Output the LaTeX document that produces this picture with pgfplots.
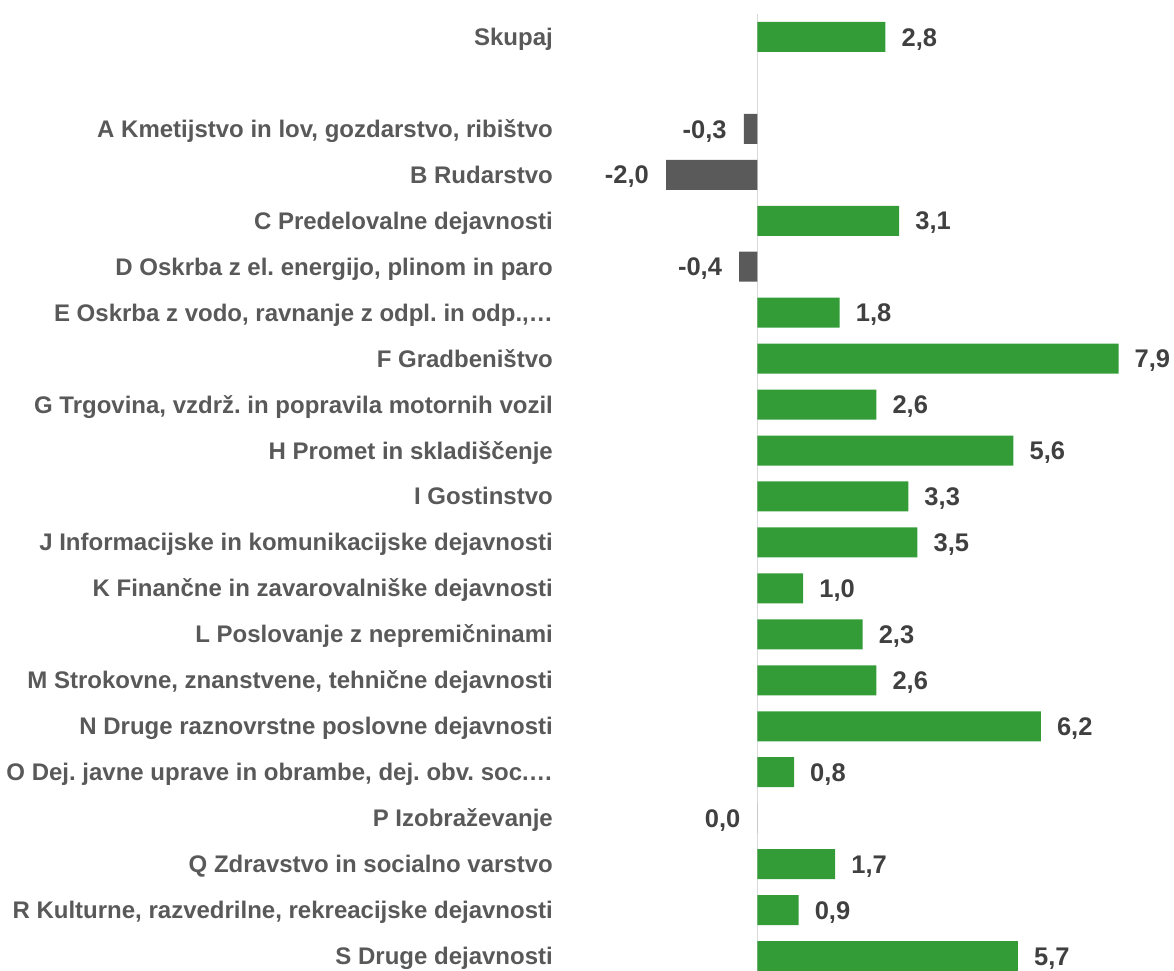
\documentclass[border=0pt]{standalone}
\usepackage{pgfplots}
\pgfplotsset{compat=1.18}
\usepackage{fontspec}
\setmainfont{Liberation Sans}
\frenchspacing

\definecolor{barGreen}{HTML}{349C37}
\definecolor{barGray}{HTML}{5A5A5A}
\definecolor{catText}{HTML}{595959}
\definecolor{valText}{HTML}{404040}
\definecolor{zeroLine}{HTML}{D9D9D9}

\begin{document}
\begin{tikzpicture}
\begin{axis}[
  xbar,
  x=45.7pt, y=45.95pt,
  y dir=reverse,
  xmin=-4.2, xmax=8.2,
  ymin=-0.5, ymax=20.5,
  bar width=30pt,
  bar shift=0pt,
  clip=false,
  axis line style={draw=none},
  xtick=\empty,
  extra x ticks={0},
  extra x tick labels={},
  extra x tick style={grid=major, major tick length=0pt},
  major grid style={draw=zeroLine, line width=1.5pt},
  ytick={0,...,20},
  major tick length=0pt,
  yticklabels={
    Skupaj,
    {},
    {A Kmetijstvo in lov, gozdarstvo, ribištvo},
    {B Rudarstvo},
    {C Predelovalne dejavnosti},
    {D Oskrba z el. energijo, plinom in paro},
    {E Oskrba z vodo, ravnanje z odpl. in odp.,…},
    {F Gradbeništvo},
    {G Trgovina, vzdrž. in popravila motornih vozil},
    {H Promet in skladiščenje},
    {I Gostinstvo},
    {J Informacijske in komunikacijske dejavnosti},
    {K Finančne in zavarovalniške dejavnosti},
    {L Poslovanje z nepremičninami},
    {M Strokovne, znanstvene, tehnične dejavnosti},
    {N Druge raznovrstne poslovne dejavnosti},
    {O Dej. javne uprave in obrambe, dej. obv. soc.…},
    {P Izobraževanje},
    {Q Zdravstvo in socialno varstvo},
    {R Kulturne, razvedrilne, rekreacijske dejavnosti},
    {S Druge dejavnosti}
  },
  yticklabel style={font=\fontsize{24}{28}\selectfont\bfseries\frenchspacing, text=catText,
    anchor=east, inner sep=0pt, text depth=0pt, text height=17pt, xshift=-12.5pt},
  nodes near coords={\pgfmathprintnumber[fixed, fixed zerofill, precision=1, use comma, assume math mode=true]{\pgfplotspointmeta}},
  point meta=x,
]
% positive values
\addplot[fill=barGreen, draw=none,
  every node near coord/.append style={anchor=west, inner sep=0pt, xshift=16pt,
    text depth=0pt, text height=18.3pt,
    font=\fontsize{25.5}{30}\selectfont\bfseries, text=valText}]
  coordinates {
  (2.8,0) (3.1,4) (1.8,6) (7.9,7) (2.6,8) (5.6,9) (3.3,10) (3.5,11)
  (1.0,12) (2.3,13) (2.6,14) (6.2,15) (0.8,16) (1.7,18) (0.9,19) (5.7,20)
};
% negative and zero values
\addplot[fill=barGray, draw=none,
  every node near coord/.append style={anchor=east, inner sep=0pt, xshift=-17pt,
    text depth=0pt, text height=18.3pt,
    font=\fontsize{25.5}{30}\selectfont\bfseries, text=valText}]
  coordinates {
  (-0.3,2) (-2.0,3) (-0.4,5) (0.0,17)
};
\coordinate (bbtl) at (axis cs:-16.575,-0.805);
\coordinate (bbbr) at (axis cs:9.114,20.326);
\end{axis}
\pgfresetboundingbox
\path[use as bounding box] (bbtl) rectangle (bbbr);
\end{tikzpicture}
\end{document}
